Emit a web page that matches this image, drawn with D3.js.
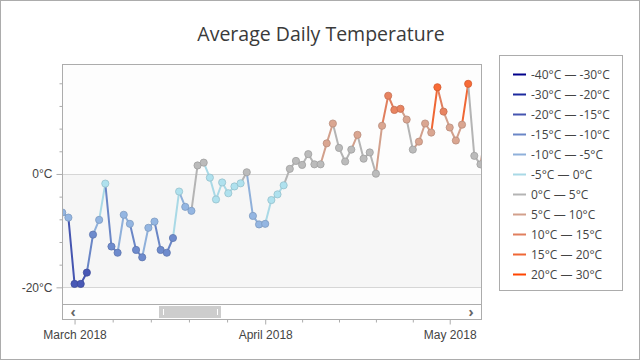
<!DOCTYPE html>
<html><head><meta charset="utf-8">
<script src="https://cdn.jsdelivr.net/npm/d3@7"></script>
<style>body{margin:0;background:#fff}svg{display:block;font-family:"Segoe UI","Open Sans","Noto Sans",sans-serif}</style>
</head><body><svg id="c" width="640" height="360"></svg>
<script>
const title = "Average Daily Temperature";
const startDate = "2018-02-27";
const temps = [-6.8,-7.7,-19.4,-19.4,-17.4,-10.7,-8.1,-1.7,-12.8,-13.9,-7.2,-8.8,-13.4,-14.7,-9.5,-8.4,-13.4,-13.9,-11.3,-3.1,-5.8,-6.5,1.5,2.0,-0.65,-4.5,-1.5,-3.4,-2.2,-1.65,0.3,-7.4,-8.9,-8.8,-4.6,-3.6,-2.0,0.9,2.3,1.6,3.5,1.7,1.7,5.4,8.9,4.6,2.2,4.3,6.9,2.7,3.8,0.05,8.5,13.8,11.3,11.5,9.6,4.3,5.7,8.9,7.3,15.3,11.0,8.2,5.9,8.7,15.9,3.2,1.7,8.5];
const rangeStops = [-40,-30,-20,-15,-10,-5,0,5,10,15,20,30];
const rangeColors = ["#00008b","#1c2a9e","#4555b0","#6a86c6","#8fb0da","#a9d9e6","#b4b4b4","#d2a08c","#e07f5e","#ef6735","#ff4500"];
const rangeLabels = ["-40°C — -30°C","-30°C — -20°C","-20°C — -15°C","-15°C — -10°C","-10°C — -5°C","-5°C — 0°C","0°C — 5°C","5°C — 10°C","10°C — 15°C","15°C — 20°C","20°C — 30°C"];
const yTicks = [0,-20];
const yLabels = ["0°C","-20°C"];
const xTickLabels = ["March 2018","April 2018","May 2018"];
const xTickDates = ["2018-03-01","2018-04-01","2018-05-01"];

const svg = d3.select("#c");
const parse = d3.utcParse("%Y-%m-%d");
const d0 = parse(startDate);
const data = temps.map((t,i)=>({date:d3.utcDay.offset(d0,i), t}));

const L=62,R=482,T=64,B=304;
const x = d3.scaleUtc().domain([d3.utcHour.offset(d0,-1), d3.utcHour.offset(d3.utcDay.offset(d0,68),6)]).range([L,R]);
const y = d3.scaleLinear().domain([-22.94,19.4]).range([B,T]);
const colorOf = d3.scaleThreshold().domain(rangeStops.slice(1,-1)).range(rangeColors);

// outer border
svg.append("rect").attr("x",0.5).attr("y",0.5).attr("width",639).attr("height",359).attr("fill","#fff").attr("stroke","#acacac");

// title
svg.append("text").attr("x",321).attr("y",41).attr("text-anchor","middle").attr("font-size",19.5).attr("fill","#3a3a3a").text(title);

// plot background
svg.append("rect").attr("x",L).attr("y",T).attr("width",R-L).attr("height",B-T).attr("fill","#fdfdfd");
svg.append("rect").attr("x",L).attr("y",y(0)).attr("width",R-L).attr("height",y(-20)-y(0)).attr("fill","#f6f6f6");
svg.selectAll(".grid").data(yTicks).join("line").attr("x1",L).attr("x2",R)
  .attr("y1",d=>Math.round(y(d))+0.5).attr("y2",d=>Math.round(y(d))+0.5).attr("stroke","#d6d6d6");

// clip
svg.append("clipPath").attr("id","clip").append("rect").attr("x",L).attr("y",T).attr("width",R-L).attr("height",B-T);
const g = svg.append("g").attr("clip-path","url(#clip)");
const segs = data.slice(1).map((d,i)=>[data[i],d]);
g.selectAll(".seg").data(segs).join("line")
  .attr("x1",d=>x(d[0].date)).attr("y1",d=>y(d[0].t)).attr("x2",d=>x(d[1].date)).attr("y2",d=>y(d[1].t))
  .attr("stroke",d=>colorOf(d[1].t)).attr("stroke-width",2).attr("stroke-linecap","round");
g.selectAll(".pt").data(data).join("circle")
  .attr("cx",d=>x(d.date)).attr("cy",d=>y(d.t)).attr("r",3.6)
  .attr("fill",d=>d3.color(colorOf(d.t)).brighter(0.1))
  .attr("stroke",d=>d3.color(colorOf(d.t)).darker(0.35)).attr("stroke-width",0.8);

// plot frame
svg.append("rect").attr("x",L+0.5).attr("y",T+0.5).attr("width",R-L-1).attr("height",B-T).attr("fill","none").attr("stroke","#acacac");

// y axis
const yAxis = d3.axisLeft(y).tickValues(yTicks).tickFormat((d,i)=>yLabels[i]).tickSize(6).tickPadding(4);
const ya = svg.append("g").attr("transform",`translate(${L+0.5},0)`).call(yAxis);
ya.select(".domain").remove();
ya.selectAll(".tick line").attr("stroke","#acacac");
ya.selectAll("text").attr("font-size",12).attr("fill","#444").attr("font-family",null);
const yMinor = d3.range(-20,19,4).filter(v=>!yTicks.includes(v));
svg.append("g").attr("transform",`translate(${L+0.5},0)`).call(d3.axisLeft(y).tickValues(yMinor).tickSize(3).tickFormat(""))
  .call(s=>{s.select(".domain").remove();s.selectAll("line").attr("stroke","#acacac");});

// scrollbar
const SB=319;
svg.append("rect").attr("x",L+0.5).attr("y",B+0.5).attr("width",R-L-1).attr("height",SB-B).attr("fill","#fff").attr("stroke","#acacac");
svg.append("rect").attr("x",159).attr("y",306).attr("width",62).attr("height",12).attr("fill","#cdcdcd");
[163,217].forEach(v=>svg.append("line").attr("x1",v+0.5).attr("x2",v+0.5).attr("y1",309).attr("y2",315).attr("stroke","#fff"));
svg.append("text").attr("x",73).attr("y",316.5).attr("text-anchor","middle").attr("font-size",14).attr("font-weight","bold").attr("fill","#666").text("‹");
svg.append("text").attr("x",471).attr("y",316.5).attr("text-anchor","middle").attr("font-size",14).attr("font-weight","bold").attr("fill","#666").text("›");

// x axis
const majors = xTickDates.map(parse);
const xAxis = d3.axisBottom(x).tickValues(majors).tickFormat((d,i)=>xTickLabels[i]).tickSize(5).tickPadding(6);
const xa = svg.append("g").attr("transform",`translate(0,${SB+0.5})`).call(xAxis);
xa.select(".domain").remove();
xa.selectAll(".tick line").attr("stroke","#acacac");
xa.selectAll("text").attr("font-size",12).attr("fill","#444").attr("font-family",null);
const minors=[];
majors.slice(0,2).forEach((m,i)=>{const n=majors[i+1];for(let k=1;k<5;k++)minors.push(new Date(+m+(n-m)*k/5));});
minors.push(new Date(+majors[0]-(31*86400000/5)));
svg.append("g").attr("transform",`translate(0,${SB+0.5})`).call(d3.axisBottom(x).tickValues(minors.filter(d=>x(d)>L&&x(d)<R)).tickSize(3).tickFormat(""))
  .call(s=>{s.select(".domain").remove();s.selectAll("line").attr("stroke","#acacac");});

// legend
svg.append("rect").attr("x",499.5).attr("y",55.5).attr("width",123).attr("height",235).attr("fill","#fff").attr("stroke","#acacac");
const lg = svg.append("g").selectAll("g").data(rangeLabels).join("g").attr("transform",(d,i)=>`translate(513,${74.5+i*20})`);
lg.append("line").attr("x1",0).attr("x2",13).attr("stroke",(d,i)=>rangeColors[i]).attr("stroke-width",2);
lg.append("text").attr("x",18).attr("y",4).attr("font-size",12).attr("fill","#444").text(d=>d);
</script></body></html>
